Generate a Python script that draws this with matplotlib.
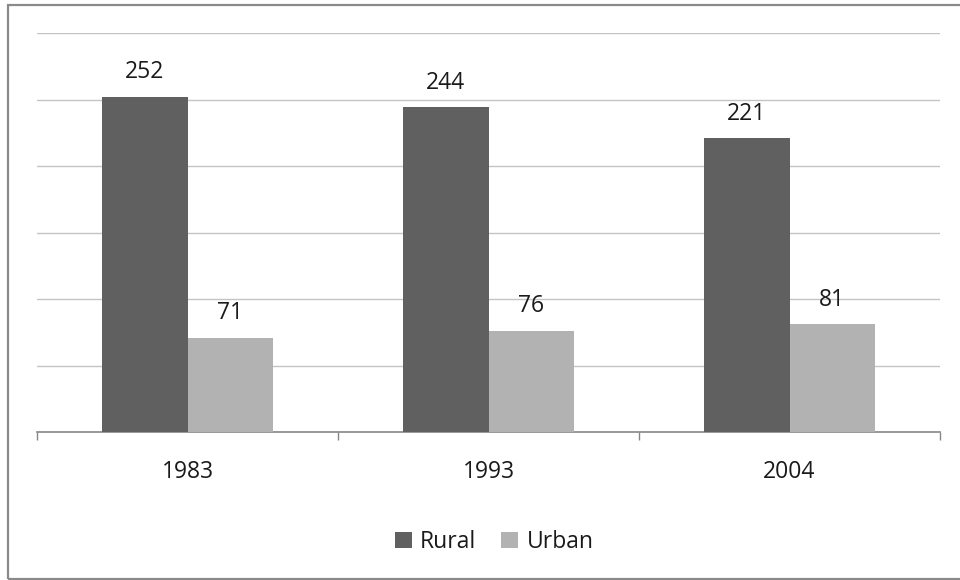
import matplotlib
matplotlib.use("Agg")
import matplotlib.pyplot as plt
from matplotlib.patches import Rectangle
import numpy as np

years = ["1983", "1993", "2004"]
rural = [252, 244, 221]
urban = [71, 76, 81]

plt.rcParams['font.family'] = ['Open Sans', 'DejaVu Sans']

fig = plt.figure(figsize=(9.6, 5.8), dpi=100)
ax = fig.add_axes([37/960, 148/580, 903/960, 399/580])

# outer chart frame
fig.patches.append(Rectangle((8/960, 1/580), 1.0, 574/580, transform=fig.transFigure,
                             fill=False, edgecolor='#8a8a8a', linewidth=1.6))

x = np.arange(len(years))
w = 0.283
b1 = ax.bar(x - w/2, rural, w, color='#606060', label='Rural', zorder=3)
b2 = ax.bar(x + w/2, urban, w, color='#b2b2b2', label='Urban', zorder=3)

txt = '#1a1a1a'
fs = 16.5
for bars, vals in [(b1, rural), (b2, urban)]:
    for bar, v in zip(bars, vals):
        ax.annotate(str(v), (bar.get_x() + bar.get_width()/2, v),
                    xytext=(0, 9), textcoords='offset points',
                    ha='center', va='bottom', fontsize=fs, color=txt)

ax.set_xlim(-0.5, 2.5)
ax.set_ylim(0, 300)
ax.set_yticks(np.arange(50, 301, 50))
ax.yaxis.grid(True, color='#c4c4c4', linewidth=1)
ax.tick_params(axis='y', left=False, labelleft=False)

ax.set_xticks(x)
ax.set_xticklabels(years, fontsize=fs, color=txt)
ax.tick_params(axis='x', which='major', length=0, pad=20)
ax.set_xticks([-0.5, 0.5, 1.5, 2.5], minor=True)
ax.tick_params(axis='x', which='minor', length=6, color='#868686', width=1)

for s in ['top', 'right', 'left']:
    ax.spines[s].set_visible(False)
ax.spines['bottom'].set_color('#868686')
ax.spines['bottom'].set_linewidth(1.2)

fig.legend(handles=[b1, b2], loc='center', bbox_to_anchor=(494/960, 1 - 542/580),
           ncol=2, frameon=False, fontsize=fs, handlelength=0.75, handleheight=0.75,
           handletextpad=0.35, columnspacing=1.1, labelcolor=txt)

fig.savefig("out.png", dpi=100)
